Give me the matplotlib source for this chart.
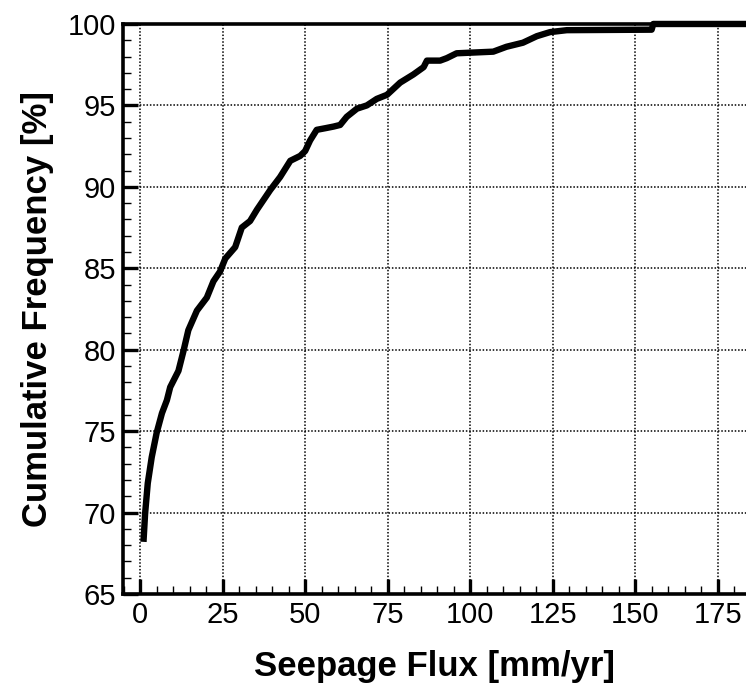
import matplotlib.pyplot as plt
from matplotlib.ticker import MultipleLocator

# digitised cumulative distribution
flux = [1.0, 1.5, 2.3, 3.5, 5.0, 6.6, 8.1, 9.1, 11.6, 13.1, 14.6, 17.2, 20.2,
        22.2, 24.2, 25.8, 28.8, 30.8, 33.3, 35.4, 39.4, 42.4, 45.5, 48.5,
        50.0, 51.5, 53.5, 56.1, 58.6, 60.6, 62.6, 65.7, 68.7, 71.7, 74.8,
        78.8, 82.8, 85.9, 86.9, 90.9, 92.9, 95.9, 107.0, 111.0, 116.0,
        120.2, 124.2, 129.3, 155.0, 155.5, 184.0]
freq = [68.2, 69.95, 71.8, 73.4, 74.9, 76.1, 76.9, 77.7, 78.7, 79.9, 81.2,
        82.4, 83.2, 84.2, 84.8, 85.6, 86.3, 87.5, 87.9, 88.6, 89.8, 90.6,
        91.6, 91.9, 92.2, 92.85, 93.5, 93.6, 93.7, 93.8, 94.3, 94.8, 95.0,
        95.4, 95.65, 96.4, 96.9, 97.35, 97.75, 97.75, 97.9, 98.2, 98.3,
        98.6, 98.85, 99.25, 99.5, 99.62, 99.65, 100.0, 100.0]

xticks = [0, 25, 50, 75, 100, 125, 150, 175]
yticks = [65, 70, 75, 80, 85, 90, 95, 100]

plt.rcParams['font.family'] = ['Liberation Sans', 'DejaVu Sans']

fig = plt.figure(figsize=(7.46, 6.87), dpi=100)
ax = fig.add_axes([0.1649, 0.1354, 0.8351, 0.8297])

ax.plot(flux, freq, color='black', lw=4.6, solid_joinstyle='round',
        solid_capstyle='butt', clip_on=False, zorder=3)

ax.set_xlim(-5.2, 183.6)
ax.set_ylim(65, 100)
ax.set_xticks(xticks)
ax.set_yticks(yticks)
ax.xaxis.set_minor_locator(MultipleLocator(5))
ax.yaxis.set_minor_locator(MultipleLocator(1))

ax.grid(True, which='major', color='black', lw=1.1, ls=(0, (1, 1.2)))
ax.tick_params(which='major', direction='in', length=11, width=2.4,
               labelsize=21, pad=5, top=False, right=False)
ax.tick_params(which='minor', direction='in', length=6, width=1.0,
               top=False, right=False)

for side in ['left', 'bottom', 'top']:
    ax.spines[side].set_linewidth(2.6)
ax.spines['right'].set_visible(False)

ax.set_xlabel('Seepage Flux [mm/yr]', fontsize=25, fontweight='bold', labelpad=15)
ax.set_ylabel('Cumulative Frequency [%]', fontsize=25, fontweight='bold', labelpad=10)

fig.savefig('out.png', dpi=100)
